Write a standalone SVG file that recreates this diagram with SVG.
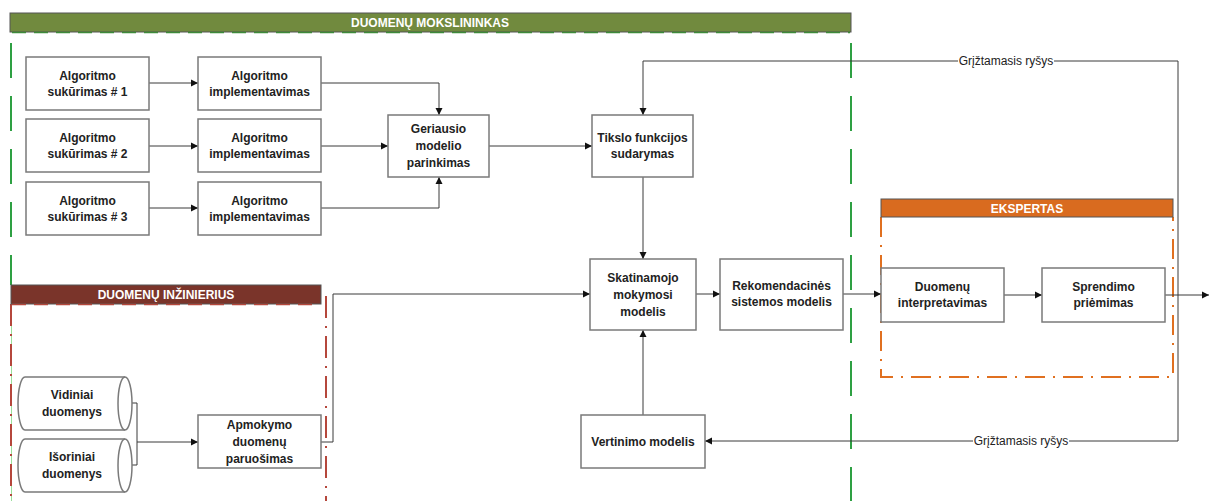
<svg xmlns="http://www.w3.org/2000/svg" width="1209" height="501" viewBox="0 0 1209 501">
<defs>
<marker id="ah" markerWidth="8" markerHeight="8" refX="7" refY="4" orient="auto" markerUnits="userSpaceOnUse">
<path d="M0,0.5 L7,4 L0,7.5 Z" fill="#111"/>
</marker>
<style>
.box{fill:#fff;stroke:#7a7a7a;stroke-width:1.5}
.t{font-family:"Liberation Sans",Arial,sans-serif;font-size:12px;font-weight:bold;fill:#222;text-anchor:middle}
.h{font-family:"Liberation Sans",Arial,sans-serif;font-size:12px;font-weight:bold;fill:#fff;text-anchor:middle}
.lbl{font-family:"Liberation Sans",Arial,sans-serif;font-size:12px;fill:#222;text-anchor:middle}
.c{fill:none;stroke:#3a3a3a;stroke-width:1}
.ca{fill:none;stroke:#3a3a3a;stroke-width:1;marker-end:url(#ah)}
.gd{fill:none;stroke:#2ea043;stroke-width:2;stroke-dasharray:35 18}
.rd{fill:none;stroke:#b5473c;stroke-width:2;stroke-dasharray:22 8 2 8}
.od{fill:none;stroke:#e07020;stroke-width:2;stroke-dasharray:20 8 2 8}
</style>
</defs>
<rect width="1209" height="501" fill="#fff"/>

<g id="lane-mokslininkas">
<line class="gd" x1="11" y1="43" x2="11" y2="285"/>
<line class="gd" x1="851" y1="43" x2="851" y2="501"/>
<rect x="10" y="13" width="841" height="19" fill="#718a3e" stroke="#555" stroke-width="1"/>
<line x1="12" y1="32.5" x2="850" y2="32.5" stroke="#3d8a3a" stroke-width="1.5" stroke-dasharray="14 8"/>
<text class="h" x="430" y="27">DUOMENŲ MOKSLININKAS</text>
</g>

<g id="lane-inzinierius">
<line x1="11.5" y1="304" x2="11.5" y2="501" stroke="#9be09b" stroke-width="1"/>
<line class="rd" x1="11" y1="304" x2="11" y2="501"/>
<line class="rd" x1="326" y1="296" x2="326" y2="501"/>
<rect x="11" y="285" width="310" height="19" fill="#7a342a" stroke="#555" stroke-width="1"/>
<line x1="12" y1="304.5" x2="320" y2="304.5" stroke="#b5473c" stroke-width="1.5" stroke-dasharray="14 8"/>
<text class="h" x="166" y="299">DUOMENŲ INŽINIERIUS</text>
</g>

<g id="lane-ekspertas">
<path class="od" d="M881,217 L881,377 L1173,377 L1173,217"/>
<rect x="881" y="199" width="292" height="18" fill="#d96b1f" stroke="#555" stroke-width="1"/>
<text class="h" x="1027" y="212.5">EKSPERTAS</text>
</g>

<g id="connectors">
<line class="ca" x1="149" y1="83" x2="198" y2="83"/>
<line class="ca" x1="149" y1="146" x2="198" y2="146"/>
<line class="ca" x1="149" y1="208" x2="198" y2="208"/>
<path class="ca" d="M321,83 L439,83 L439,115"/>
<line class="ca" x1="321" y1="146" x2="388" y2="146"/>
<path class="ca" d="M321,208 L439,208 L439,177"/>
<line class="ca" x1="489" y1="146" x2="592" y2="146"/>
<path class="ca" d="M1178,61 L643,61 L643,115"/>
<line class="ca" x1="643" y1="177" x2="643" y2="259"/>
<line class="ca" x1="643" y1="415" x2="643" y2="330"/>
<line class="ca" x1="696" y1="294" x2="720" y2="294"/>
<line class="ca" x1="843" y1="294" x2="881" y2="294"/>
<line class="ca" x1="1004" y1="295" x2="1042" y2="295"/>
<line class="ca" x1="1165" y1="295" x2="1209" y2="295"/>
<path class="c" d="M1178,61 L1178,441"/>
<path class="ca" d="M1178,441 L705,441"/>
<path class="ca" d="M321,442 L333,442 L333,294 L590,294"/>
<path class="c" d="M131,403 L137,403 L137,465 L131,465"/>
<line class="ca" x1="137" y1="442" x2="198" y2="442"/>
<rect x="958" y="54" width="96" height="14" fill="#fff"/>
<text class="lbl" x="1006" y="65">Grįžtamasis ryšys</text>
<rect x="973" y="434" width="96" height="14" fill="#fff"/>
<text class="lbl" x="1021" y="445">Grįžtamasis ryšys</text>
</g>

<g id="alg1"><rect class="box" x="26" y="57" width="123" height="53"/><text class="t" x="87.5" y="80">Algoritmo</text><text class="t" x="87.5" y="96">sukūrimas # 1</text></g>
<g id="alg2"><rect class="box" x="26" y="119" width="123" height="53"/><text class="t" x="87.5" y="142">Algoritmo</text><text class="t" x="87.5" y="158">sukūrimas # 2</text></g>
<g id="alg3"><rect class="box" x="26" y="182" width="123" height="53"/><text class="t" x="87.5" y="205">Algoritmo</text><text class="t" x="87.5" y="221">sukūrimas # 3</text></g>
<g id="impl1"><rect class="box" x="198" y="57" width="123" height="53"/><text class="t" x="259.5" y="80">Algoritmo</text><text class="t" x="259.5" y="96">implementavimas</text></g>
<g id="impl2"><rect class="box" x="198" y="119" width="123" height="53"/><text class="t" x="259.5" y="142">Algoritmo</text><text class="t" x="259.5" y="158">implementavimas</text></g>
<g id="impl3"><rect class="box" x="198" y="182" width="123" height="53"/><text class="t" x="259.5" y="205">Algoritmo</text><text class="t" x="259.5" y="221">implementavimas</text></g>
<g id="geriausio"><rect class="box" x="388" y="115" width="101" height="62"/><text class="t" x="438.5" y="133">Geriausio</text><text class="t" x="438.5" y="150">modelio</text><text class="t" x="438.5" y="167">parinkimas</text></g>
<g id="tikslo"><rect class="box" x="592" y="115" width="101" height="62"/><text class="t" x="642.5" y="142">Tikslo funkcijos</text><text class="t" x="642.5" y="158">sudarymas</text></g>
<g id="skatinamojo"><rect class="box" x="590" y="259" width="106" height="71"/><text class="t" x="643" y="282">Skatinamojo</text><text class="t" x="643" y="299">mokymosi</text><text class="t" x="643" y="316">modelis</text></g>
<g id="rekomendacines"><rect class="box" x="720" y="259" width="123" height="71"/><text class="t" x="781.5" y="290">Rekomendacinės</text><text class="t" x="781.5" y="306">sistemos modelis</text></g>
<g id="vertinimo"><rect class="box" x="581" y="415" width="124" height="53"/><text class="t" x="643" y="446">Vertinimo modelis</text></g>
<g id="duomenu-interp"><rect class="box" x="881" y="268" width="123" height="54"/><text class="t" x="942.5" y="291">Duomenų</text><text class="t" x="942.5" y="307">interpretavimas</text></g>
<g id="sprendimo"><rect class="box" x="1042" y="268" width="123" height="54"/><text class="t" x="1103.5" y="291">Sprendimo</text><text class="t" x="1103.5" y="307">priėmimas</text></g>
<g id="apmokymo"><rect class="box" x="198" y="415" width="123" height="53"/><text class="t" x="259.5" y="429">Apmokymo</text><text class="t" x="259.5" y="446">duomenų</text><text class="t" x="259.5" y="463">paruošimas</text></g>
<g id="vidiniai">
<path class="box" d="M25,377 L125,377 A7,26.5 0 0 1 125,430 L25,430 A7,26.5 0 0 1 25,377 Z"/>
<path fill="none" stroke="#7a7a7a" stroke-width="1.5" d="M125,377 A7,26.5 0 0 0 125,430"/>
<text class="t" x="72" y="399">Vidiniai</text><text class="t" x="72" y="416">duomenys</text>
</g>
<g id="isoriniai">
<path class="box" d="M25,439 L125,439 A7,26.5 0 0 1 125,492 L25,492 A7,26.5 0 0 1 25,439 Z"/>
<path fill="none" stroke="#7a7a7a" stroke-width="1.5" d="M125,439 A7,26.5 0 0 0 125,492"/>
<text class="t" x="72" y="461">Išoriniai</text><text class="t" x="72" y="478">duomenys</text>
</g>
</svg>
